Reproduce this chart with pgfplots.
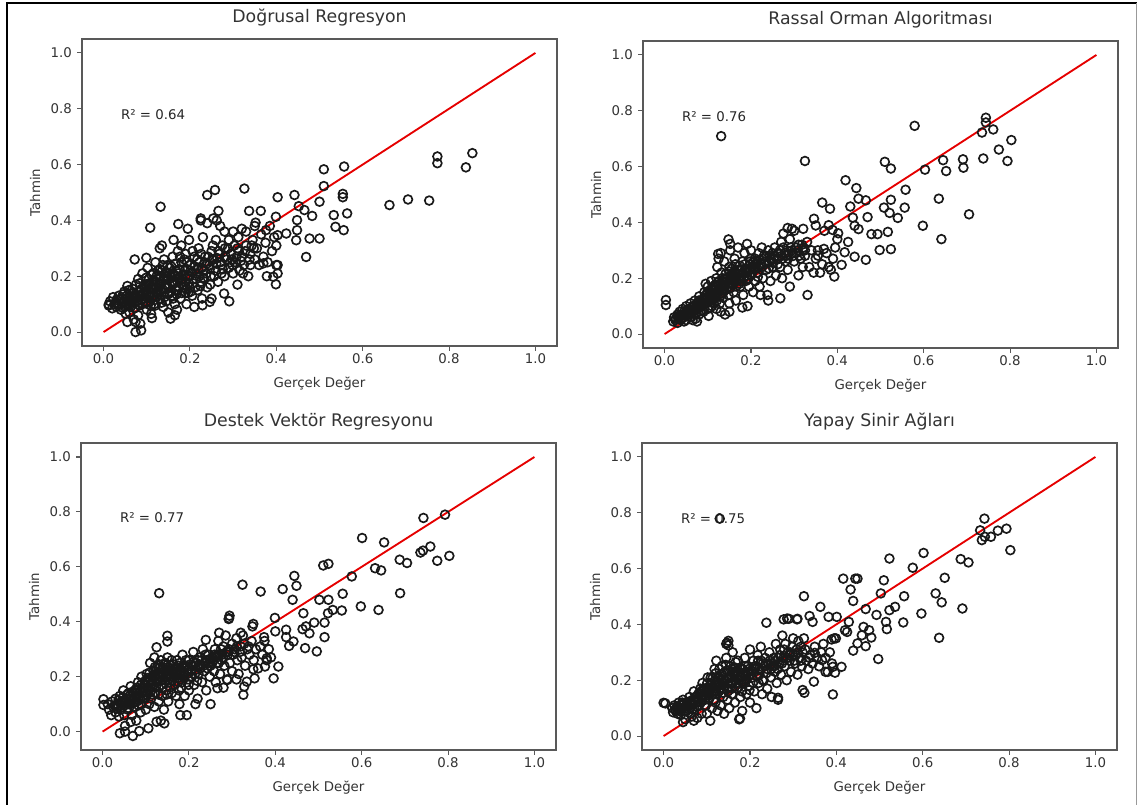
\documentclass[border=0pt]{standalone}
\usepackage{fontspec}
\setmainfont{DejaVu Sans}
\usepackage{pgfplots}
\pgfplotsset{compat=1.18}

% 1 px of the reference = 0.75pt
\pgfplotsset{
  panel/.style={
    scale only axis, width=356.25pt, height=230.25pt, anchor=north west,
    xmin=-0.05, xmax=1.05, ymin=-0.05, ymax=1.05,
    xtick={0,0.2,0.4,0.6,0.8,1}, xticklabels={0.0,0.2,0.4,0.6,0.8,1.0},
    ytick={0,0.2,0.4,0.6,0.8,1}, yticklabels={0.0,0.2,0.4,0.6,0.8,1.0},
    tick align=outside, tick pos=left, major tick length=3.5pt,
    tick style={black!65, line width=0.8pt},
    axis line style={black!65, line width=0.9pt},
    ticklabel style={font=\fontsize{10}{12}\selectfont, text=black!80, inner sep=0pt},
    xticklabel style={anchor=north, yshift=-1.75pt},
    yticklabel style={anchor=east, xshift=-4pt},
    label style={font=\fontsize{10}{12}\selectfont, text=black!80},
    xlabel={Gerçek Değer}, ylabel={Tahmin},
    xlabel style={at={(axis description cs:0.5,-0.134)}, anchor=base},
    ylabel style={at={(axis description cs:-0.0884,0.5)}, anchor=base},
    title style={at={(axis description cs:0.5,1.029)}, anchor=base,
      font=\fontsize{13}{15}\selectfont, text=black!80},
  },
  pts/.style={only marks, mark=o, mark size=3.3pt, black!90, mark options={line width=1.25pt}},
  diag/.style={red!90!black, line width=1.4pt},
}
\newcommand{\rtext}[1]{\node[anchor=base west, inner sep=0pt, font=\fontsize{10}{12}\selectfont, text=black!85] at (axis cs:0.04,0.76) {#1};}

\begin{document}
\begin{tikzpicture}
\useasboundingbox (0,0) rectangle (852.75pt,603.75pt);
\draw[black, line width=1.3pt] (5.25pt,0) -- (5.25pt,601.5pt) -- (852.75pt,601.5pt);
\draw[black!40, line width=0.6pt] (852pt,601.5pt) -- (852pt,0);

% ---------------- Dogrusal Regresyon
\begin{axis}[panel, at={(61.5pt,574.5pt)}, title={Doğrusal Regresyon}]
\addplot[pts] coordinates {
(0.773,0.629) (0.773,0.605) (0.854,0.641) (0.839,0.590) (0.662,0.455) (0.705,0.475) (0.754,0.471)
(0.510,0.583) (0.557,0.593) (0.510,0.523) (0.554,0.495) (0.554,0.483) (0.533,0.419) (0.564,0.425)
(0.537,0.377) (0.556,0.365) (0.500,0.467) (0.483,0.416) (0.500,0.335) (0.477,0.335) (0.469,0.269)
(0.442,0.491) (0.403,0.483) (0.326,0.514) (0.258,0.509) (0.240,0.491) (0.132,0.449) (0.108,0.374)
(0.173,0.387) (0.072,0.260) (0.099,0.266) (0.266,0.434) (0.225,0.407) (0.254,0.407) (0.337,0.434)
(0.364,0.434) (0.399,0.413) (0.403,0.347) (0.376,0.365) (0.352,0.392) (0.452,0.451) (0.465,0.437)
(0.448,0.401) (0.448,0.365) (0.446,0.329) (0.423,0.353) (0.403,0.240) (0.403,0.210) (0.399,0.171)
(0.393,0.198) (0.378,0.200) (0.370,0.246) (0.291,0.110) (0.279,0.138) (0.246,0.108) (0.229,0.096)
(0.155,0.048) (0.074,0.000) (0.087,0.006) (0.074,0.036) (0.055,0.036) (0.051,0.066) (0.012,0.099)
(0.012,0.095) (0.015,0.11) (0.02,0.085) (0.022,0.125) (0.025,0.10) (0.03,0.09) (0.03,0.115) (0.035,0.13)
(0.04,0.08) (0.042,0.10) (0.045,0.12) (0.048,0.145) (0.05,0.09) (0.055,0.11) (0.055,0.165) (0.06,0.13) (0.06,0.07) (0.058,0.15)
(0.065,0.10) (0.068,0.12) (0.07,0.14) (0.072,0.085) (0.075,0.17) (0.078,0.11) (0.08,0.06) (0.08,0.19) (0.085,0.13) (0.088,0.155) (0.09,0.10) (0.09,0.21) (0.07,0.045) (0.085,0.03)
(0.095,0.12) (0.098,0.17) (0.10,0.14) (0.10,0.08) (0.102,0.23) (0.105,0.19) (0.108,0.11) (0.11,0.16) (0.112,0.05) (0.115,0.21) (0.118,0.13) (0.12,0.18) (0.12,0.095) (0.12,0.25) (0.11,0.065)
(0.125,0.15) (0.128,0.20) (0.13,0.12) (0.13,0.30) (0.132,0.17) (0.135,0.22) (0.138,0.09) (0.14,0.26) (0.14,0.14) (0.142,0.19) (0.145,0.11) (0.148,0.24) (0.15,0.16) (0.15,0.07) (0.135,0.31)
(0.155,0.20) (0.158,0.13) (0.16,0.27) (0.16,0.17) (0.162,0.33) (0.165,0.10) (0.168,0.22) (0.17,0.15) (0.172,0.29) (0.175,0.19) (0.178,0.12) (0.18,0.25) (0.18,0.31) (0.165,0.06) (0.17,0.08)
(0.185,0.17) (0.188,0.22) (0.19,0.14) (0.19,0.28) (0.192,0.10) (0.195,0.20) (0.198,0.33) (0.20,0.16) (0.20,0.24) (0.205,0.13) (0.208,0.19) (0.21,0.27) (0.21,0.09) (0.195,0.37)
(0.215,0.21) (0.218,0.15) (0.22,0.30) (0.222,0.25) (0.225,0.18) (0.228,0.12) (0.23,0.34) (0.232,0.22) (0.235,0.27) (0.24,0.16) (0.24,0.39) (0.245,0.24) (0.248,0.20) (0.25,0.29) (0.25,0.12) (0.225,0.40)
(0.255,0.26) (0.26,0.22) (0.26,0.33) (0.265,0.18) (0.268,0.28) (0.27,0.38) (0.272,0.24) (0.275,0.31) (0.28,0.20) (0.28,0.36) (0.285,0.26) (0.29,0.23) (0.29,0.33) (0.295,0.28) (0.30,0.36) (0.30,0.21) (0.262,0.40)
(0.305,0.25) (0.31,0.30) (0.312,0.34) (0.315,0.22) (0.32,0.27) (0.32,0.37) (0.325,0.24) (0.33,0.31) (0.33,0.36) (0.335,0.20) (0.34,0.28) (0.34,0.24) (0.345,0.33) (0.35,0.26) (0.35,0.38) (0.31,0.17)
(0.355,0.30) (0.36,0.24) (0.365,0.35) (0.37,0.27) (0.375,0.32) (0.38,0.25) (0.385,0.38) (0.39,0.29) (0.395,0.34) (0.40,0.24) (0.40,0.31)
(0.028,0.105) (0.033,0.098) (0.038,0.118) (0.043,0.088) (0.047,0.108) (0.052,0.128) (0.057,0.095) (0.062,0.115) (0.066,0.138) (0.071,0.105)
(0.076,0.125) (0.081,0.145) (0.083,0.095) (0.087,0.115) (0.092,0.135) (0.094,0.16) (0.097,0.105) (0.101,0.125) (0.104,0.155) (0.106,0.175)
(0.109,0.095) (0.113,0.14) (0.116,0.185) (0.119,0.115) (0.121,0.16) (0.124,0.205) (0.127,0.135) (0.129,0.175) (0.131,0.225) (0.134,0.105)
(0.136,0.155) (0.139,0.195) (0.141,0.125) (0.144,0.215) (0.146,0.17) (0.149,0.135) (0.151,0.19) (0.153,0.23) (0.156,0.145) (0.159,0.21)
(0.161,0.12) (0.163,0.18) (0.166,0.245) (0.169,0.135) (0.171,0.20) (0.174,0.16) (0.176,0.225) (0.179,0.175) (0.181,0.14) (0.184,0.205)
(0.187,0.26) (0.189,0.18) (0.191,0.155) (0.194,0.225) (0.197,0.175) (0.199,0.20) (0.202,0.145) (0.204,0.215) (0.207,0.175) (0.211,0.235)
(0.214,0.19) (0.217,0.26) (0.221,0.20) (0.224,0.165) (0.227,0.23) (0.231,0.195) (0.234,0.25) (0.238,0.21) (0.242,0.27) (0.246,0.225)
(0.251,0.26) (0.256,0.20) (0.261,0.245) (0.266,0.29) (0.271,0.25) (0.276,0.225) (0.283,0.27) (0.288,0.30) (0.293,0.25) (0.298,0.24)
(0.303,0.31) (0.308,0.27) (0.318,0.255) (0.328,0.29) (0.338,0.26) (0.348,0.30)
(0.045,0.135) (0.052,0.10) (0.063,0.09) (0.067,0.155) (0.073,0.13) (0.079,0.10) (0.084,0.175) (0.091,0.12) (0.096,0.145) (0.099,0.195)
(0.103,0.10) (0.107,0.13) (0.111,0.205) (0.114,0.17) (0.117,0.10) (0.122,0.14) (0.126,0.22) (0.129,0.19) (0.133,0.15) (0.137,0.24)
(0.143,0.17) (0.147,0.20) (0.152,0.14) (0.157,0.235) (0.163,0.20) (0.167,0.15) (0.173,0.21) (0.177,0.27) (0.183,0.19) (0.186,0.16)
(0.193,0.25) (0.196,0.14) (0.201,0.22) (0.206,0.29) (0.212,0.16) (0.219,0.225) (0.226,0.28) (0.233,0.19) (0.239,0.245) (0.247,0.17)
(0.253,0.31) (0.263,0.265) (0.273,0.21) (0.281,0.30) (0.297,0.26) (0.313,0.29) (0.323,0.21) (0.343,0.31) (0.118,0.155) (0.104,0.17)
(0.092,0.14) (0.142,0.16) (0.158,0.18) (0.171,0.18) (0.148,0.21) (0.127,0.165)
};
\addplot[diag] coordinates {(0,0) (1,1)};
\rtext{R² = 0.64}
\end{axis}

% ---------------- Rassal Orman Algoritmasi
\begin{axis}[panel, at={(482.25pt,573pt)}, title={Rassal Orman Algoritması}]
\addplot[pts] coordinates {
(0.131,0.709) (0.579,0.746) (0.744,0.775) (0.744,0.758) (0.735,0.722) (0.761,0.733) (0.803,0.695)
(0.774,0.661) (0.794,0.620) (0.738,0.629) (0.691,0.626) (0.692,0.596) (0.645,0.623) (0.652,0.584)
(0.603,0.589) (0.510,0.617) (0.524,0.593) (0.325,0.620) (0.419,0.551) (0.444,0.523) (0.449,0.485)
(0.466,0.479) (0.558,0.517) (0.524,0.481) (0.635,0.485) (0.508,0.453) (0.521,0.434) (0.540,0.416)
(0.556,0.453) (0.598,0.388) (0.641,0.340) (0.705,0.429) (0.365,0.471) (0.383,0.449) (0.430,0.457)
(0.436,0.417) (0.470,0.419) (0.440,0.388) (0.449,0.376) (0.479,0.358) (0.493,0.358) (0.517,0.366)
(0.498,0.301) (0.524,0.304) (0.466,0.266) (0.440,0.277) (0.410,0.248) (0.393,0.206) (0.331,0.140)
(0.268,0.128) (0.222,0.140) (0.003,0.122) (0.003,0.104) (0.402,0.361) (0.389,0.373) (0.346,0.413)
(0.350,0.389) (0.425,0.330) (0.417,0.293) (0.369,0.305) (0.355,0.281) (0.295,0.377) (0.321,0.377)
(0.148,0.339) (0.152,0.323) (0.191,0.323) (0.124,0.287)
(0.02,0.045) (0.022,0.06) (0.025,0.05) (0.03,0.07) (0.032,0.055) (0.035,0.08) (0.038,0.05) (0.04,0.065) (0.042,0.09) (0.045,0.06) (0.048,0.075) (0.05,0.10) (0.05,0.05) (0.03,0.04) (0.045,0.045)
(0.055,0.07) (0.058,0.085) (0.06,0.11) (0.062,0.06) (0.065,0.095) (0.068,0.075) (0.07,0.12) (0.072,0.055) (0.075,0.09) (0.078,0.105) (0.08,0.07) (0.08,0.135) (0.065,0.05) (0.075,0.045)
(0.085,0.10) (0.088,0.12) (0.09,0.08) (0.092,0.15) (0.095,0.11) (0.098,0.13) (0.10,0.17) (0.10,0.09) (0.102,0.065) (0.105,0.14) (0.108,0.19) (0.11,0.12) (0.11,0.10) (0.095,0.18)
(0.115,0.16) (0.118,0.13) (0.12,0.20) (0.12,0.09) (0.122,0.24) (0.125,0.15) (0.128,0.11) (0.13,0.18) (0.13,0.29) (0.132,0.22) (0.135,0.13) (0.138,0.26) (0.14,0.17) (0.14,0.07) (0.125,0.27) (0.13,0.08)
(0.145,0.20) (0.148,0.14) (0.15,0.24) (0.15,0.11) (0.152,0.30) (0.155,0.18) (0.158,0.22) (0.16,0.15) (0.162,0.27) (0.165,0.12) (0.168,0.19) (0.17,0.23) (0.17,0.31) (0.15,0.08)
(0.175,0.17) (0.178,0.21) (0.18,0.26) (0.182,0.14) (0.185,0.29) (0.188,0.19) (0.19,0.23) (0.192,0.10) (0.195,0.17) (0.198,0.26) (0.20,0.21) (0.20,0.30) (0.205,0.15) (0.208,0.24) (0.21,0.19) (0.21,0.27) (0.18,0.095)
(0.215,0.22) (0.218,0.29) (0.22,0.17) (0.222,0.25) (0.225,0.31) (0.228,0.20) (0.23,0.28) (0.235,0.23) (0.238,0.14) (0.24,0.30) (0.242,0.26) (0.245,0.19) (0.25,0.29) (0.25,0.24) (0.255,0.31) (0.258,0.21) (0.26,0.27) (0.24,0.12)
(0.265,0.29) (0.268,0.24) (0.27,0.33) (0.272,0.20) (0.275,0.31) (0.28,0.26) (0.282,0.28) (0.285,0.23) (0.29,0.34) (0.29,0.17) (0.295,0.30) (0.30,0.26) (0.30,0.37) (0.305,0.29) (0.31,0.32) (0.31,0.21) (0.315,0.27) (0.32,0.30) (0.32,0.24) (0.325,0.28) (0.33,0.33) (0.275,0.36) (0.285,0.38)
(0.335,0.24) (0.34,0.30) (0.345,0.22) (0.35,0.27) (0.355,0.30) (0.36,0.22) (0.365,0.25) (0.37,0.37) (0.375,0.29) (0.38,0.24) (0.385,0.23) (0.39,0.27) (0.395,0.31) (0.40,0.34) (0.38,0.39)
(0.026,0.055) (0.031,0.062) (0.036,0.068) (0.041,0.058) (0.046,0.082) (0.051,0.072) (0.056,0.09) (0.061,0.078) (0.066,0.10) (0.071,0.085)
(0.076,0.11) (0.081,0.095) (0.083,0.12) (0.087,0.085) (0.091,0.13) (0.093,0.10) (0.097,0.14) (0.101,0.115) (0.103,0.155) (0.106,0.095)
(0.109,0.13) (0.112,0.16) (0.114,0.11) (0.117,0.145) (0.119,0.175) (0.121,0.12) (0.124,0.16) (0.126,0.19) (0.129,0.135) (0.131,0.17)
(0.134,0.20) (0.136,0.15) (0.139,0.185) (0.141,0.215) (0.144,0.16) (0.146,0.19) (0.149,0.225) (0.151,0.165) (0.154,0.20) (0.156,0.235)
(0.159,0.18) (0.161,0.21) (0.164,0.25) (0.166,0.17) (0.169,0.215) (0.171,0.20) (0.174,0.245) (0.177,0.19) (0.179,0.23) (0.183,0.20)
(0.186,0.25) (0.189,0.22) (0.193,0.195) (0.196,0.235) (0.199,0.27) (0.203,0.22) (0.206,0.26) (0.211,0.235) (0.216,0.205) (0.221,0.265)
(0.226,0.24) (0.231,0.25) (0.236,0.28) (0.241,0.235) (0.246,0.27) (0.251,0.255) (0.256,0.28) (0.262,0.25) (0.267,0.30) (0.273,0.27)
(0.279,0.29) (0.286,0.27) (0.292,0.31) (0.298,0.28) (0.305,0.31) (0.312,0.28) (0.318,0.32) (0.325,0.30)
(0.034,0.06) (0.044,0.07) (0.053,0.085) (0.059,0.07) (0.064,0.085) (0.069,0.10) (0.074,0.075) (0.079,0.12) (0.084,0.11) (0.089,0.105)
(0.094,0.125) (0.099,0.15) (0.104,0.125) (0.107,0.16) (0.111,0.14) (0.116,0.175) (0.121,0.15) (0.123,0.185) (0.127,0.16) (0.133,0.19)
(0.137,0.17) (0.142,0.20) (0.147,0.18) (0.153,0.21) (0.157,0.19) (0.163,0.22) (0.167,0.205) (0.173,0.23) (0.176,0.20) (0.181,0.22)
(0.187,0.235) (0.191,0.21) (0.197,0.25) (0.202,0.24) (0.209,0.25) (0.214,0.26) (0.219,0.24) (0.227,0.27) (0.233,0.26) (0.243,0.28)
(0.253,0.27) (0.263,0.29) (0.271,0.28) (0.283,0.30) (0.296,0.29) (0.308,0.30) (0.322,0.31) (0.113,0.125) (0.133,0.145) (0.153,0.165)
(0.173,0.18) (0.193,0.22)
};
\addplot[diag] coordinates {(0,0) (1,1)};
\rtext{R² = 0.76}
\end{axis}

% ---------------- Destek Vektor Regresyonu
\begin{axis}[panel, at={(60.75pt,271.5pt)}, ymin=-0.067, ymax=1.051, title={Destek Vektör Regresyonu}]
\addplot[pts] coordinates {
(0.131,0.504) (0.743,0.778) (0.793,0.790) (0.601,0.705) (0.652,0.689) (0.736,0.652) (0.742,0.659)
(0.759,0.674) (0.803,0.640) (0.775,0.622) (0.688,0.626) (0.705,0.614) (0.631,0.595) (0.645,0.587)
(0.577,0.565) (0.511,0.605) (0.523,0.611) (0.444,0.567) (0.449,0.531) (0.417,0.519) (0.440,0.480)
(0.324,0.535) (0.366,0.510) (0.689,0.504) (0.556,0.502) (0.502,0.480) (0.523,0.480) (0.522,0.431)
(0.533,0.443) (0.554,0.441) (0.598,0.456) (0.639,0.443) (0.465,0.431) (0.463,0.373) (0.471,0.383)
(0.490,0.397) (0.479,0.358) (0.514,0.397) (0.514,0.344) (0.496,0.292) (0.469,0.304) (0.399,0.414)
(0.400,0.365) (0.425,0.371) (0.425,0.344) (0.442,0.328) (0.432,0.312) (0.349,0.392) (0.347,0.383)
(0.293,0.413) (0.294,0.422) (0.374,0.344) (0.407,0.237) (0.396,0.194) (0.376,0.237) (0.380,0.267)
(0.349,0.227) (0.352,0.194) (0.326,0.134) (0.328,0.164) (0.334,0.182) (0.289,0.188) (0.266,0.158)
(0.239,0.334) (0.150,0.349) (0.150,0.328) (0.125,0.307) (0.002,0.118) (0.002,0.097) (0.052,0.000)
(0.040,-0.006) (0.070,-0.016) (0.085,0.002) (0.106,0.012) (0.125,0.036) (0.143,0.030) (0.052,0.021)
(0.012,0.10) (0.015,0.08) (0.02,0.06) (0.022,0.11) (0.025,0.09) (0.03,0.07) (0.03,0.12) (0.035,0.10) (0.038,0.055) (0.04,0.13) (0.042,0.08) (0.045,0.11) (0.048,0.15) (0.05,0.06) (0.05,0.095)
(0.055,0.12) (0.058,0.08) (0.06,0.14) (0.062,0.10) (0.065,0.165) (0.068,0.06) (0.07,0.12) (0.072,0.09) (0.075,0.15) (0.078,0.04) (0.08,0.11) (0.082,0.18) (0.085,0.13) (0.088,0.07) (0.09,0.20) (0.09,0.10) (0.065,0.035)
(0.095,0.15) (0.098,0.12) (0.10,0.17) (0.10,0.08) (0.102,0.21) (0.105,0.14) (0.108,0.10) (0.11,0.19) (0.11,0.25) (0.112,0.12) (0.115,0.16) (0.118,0.22) (0.12,0.09) (0.12,0.27) (0.122,0.14) (0.125,0.19)
(0.128,0.24) (0.13,0.11) (0.13,0.16) (0.132,0.21) (0.135,0.26) (0.138,0.13) (0.14,0.19) (0.14,0.23) (0.142,0.08) (0.145,0.25) (0.148,0.15) (0.15,0.21) (0.15,0.27) (0.152,0.11) (0.155,0.18) (0.158,0.24) (0.16,0.14) (0.16,0.26) (0.135,0.04)
(0.165,0.20) (0.168,0.23) (0.17,0.13) (0.172,0.26) (0.175,0.18) (0.178,0.10) (0.18,0.22) (0.182,0.16) (0.185,0.28) (0.188,0.20) (0.19,0.13) (0.192,0.24) (0.195,0.06) (0.198,0.19) (0.20,0.26) (0.20,0.15) (0.18,0.06)
(0.205,0.22) (0.21,0.29) (0.212,0.17) (0.215,0.25) (0.22,0.12) (0.222,0.21) (0.225,0.27) (0.228,0.24) (0.23,0.18) (0.232,0.30) (0.235,0.22) (0.24,0.26) (0.24,0.15) (0.245,0.28) (0.248,0.20) (0.25,0.24) (0.25,0.10) (0.215,0.10)
(0.255,0.27) (0.258,0.22) (0.26,0.30) (0.262,0.18) (0.265,0.25) (0.268,0.33) (0.27,0.28) (0.272,0.21) (0.275,0.26) (0.28,0.31) (0.282,0.24) (0.285,0.35) (0.288,0.19) (0.29,0.28) (0.292,0.41) (0.295,0.25) (0.30,0.32) (0.30,0.22) (0.28,0.16) (0.27,0.36)
(0.305,0.29) (0.31,0.34) (0.312,0.26) (0.315,0.21) (0.32,0.31) (0.322,0.27) (0.325,0.35) (0.33,0.24) (0.335,0.30) (0.34,0.28) (0.345,0.33) (0.35,0.26) (0.355,0.30) (0.36,0.23) (0.365,0.31) (0.37,0.28) (0.375,0.33) (0.38,0.26) (0.385,0.30) (0.39,0.27) (0.31,0.19) (0.32,0.36)
(0.028,0.095) (0.033,0.085) (0.037,0.115) (0.043,0.095) (0.047,0.125) (0.053,0.105) (0.057,0.135) (0.061,0.085) (0.066,0.12) (0.069,0.145)
(0.073,0.105) (0.077,0.13) (0.079,0.16) (0.083,0.095) (0.086,0.145) (0.089,0.17) (0.093,0.12) (0.096,0.16) (0.099,0.185) (0.101,0.135)
(0.104,0.195) (0.107,0.155) (0.109,0.215) (0.113,0.175) (0.116,0.135) (0.119,0.20) (0.121,0.235) (0.124,0.165) (0.127,0.21) (0.129,0.135)
(0.131,0.245) (0.134,0.185) (0.137,0.225) (0.139,0.16) (0.141,0.205) (0.144,0.245) (0.146,0.185) (0.149,0.135) (0.151,0.235) (0.154,0.205)
(0.156,0.16) (0.159,0.22) (0.161,0.185) (0.164,0.245) (0.167,0.17) (0.169,0.21) (0.171,0.235) (0.174,0.195) (0.177,0.15) (0.179,0.25)
(0.181,0.205) (0.184,0.18) (0.187,0.235) (0.189,0.215) (0.193,0.26) (0.196,0.225) (0.199,0.17) (0.203,0.245) (0.207,0.20) (0.211,0.255)
(0.216,0.225) (0.219,0.185) (0.224,0.245) (0.229,0.26) (0.234,0.24) (0.238,0.28) (0.243,0.23) (0.249,0.265) (0.254,0.25) (0.259,0.28)
(0.264,0.27) (0.269,0.25) (0.274,0.30) (0.279,0.27) (0.287,0.29) (0.293,0.30) (0.302,0.28) (0.311,0.31) (0.318,0.29) (0.328,0.32) (0.338,0.31)
(0.036,0.09) (0.044,0.105) (0.051,0.115) (0.059,0.10) (0.063,0.13) (0.071,0.14) (0.076,0.11) (0.081,0.15) (0.087,0.12) (0.091,0.155)
(0.094,0.13) (0.097,0.175) (0.103,0.16) (0.106,0.18) (0.111,0.145) (0.114,0.20) (0.117,0.17) (0.123,0.22) (0.126,0.18) (0.133,0.20)
(0.136,0.17) (0.143,0.22) (0.147,0.20) (0.153,0.19) (0.157,0.23) (0.163,0.21) (0.166,0.23) (0.173,0.21) (0.176,0.24) (0.183,0.22)
(0.186,0.20) (0.191,0.24) (0.197,0.21) (0.201,0.23) (0.209,0.24) (0.214,0.21) (0.221,0.26) (0.226,0.23) (0.236,0.25) (0.246,0.25)
(0.256,0.26) (0.266,0.28) (0.277,0.28) (0.291,0.29) (0.306,0.30) (0.12,0.205) (0.14,0.21) (0.16,0.20) (0.18,0.19) (0.13,0.23)
};
\addplot[diag] coordinates {(0,0) (1,1)};
\rtext{R² = 0.77}
\end{axis}

% ---------------- Yapay Sinir Aglari
\begin{axis}[panel, at={(481.5pt,271.5pt)}, title={Yapay Sinir Ağları}]
\rtext{R² = 0.75}
\addplot[pts] coordinates {
(0.130,0.779) (0.743,0.779) (0.733,0.737) (0.737,0.702) (0.744,0.714) (0.758,0.714) (0.774,0.736)
(0.794,0.743) (0.803,0.666) (0.688,0.634) (0.706,0.622) (0.602,0.656) (0.577,0.603) (0.523,0.636)
(0.651,0.567) (0.510,0.558) (0.503,0.511) (0.416,0.564) (0.444,0.564) (0.449,0.564) (0.433,0.525)
(0.439,0.484) (0.325,0.501) (0.557,0.501) (0.630,0.511) (0.644,0.479) (0.692,0.457) (0.597,0.439)
(0.555,0.407) (0.523,0.451) (0.536,0.463) (0.515,0.409) (0.517,0.383) (0.493,0.434) (0.468,0.455)
(0.638,0.352) (0.497,0.276) (0.363,0.463) (0.238,0.406) (0.286,0.421) (0.309,0.418) (0.338,0.430)
(0.345,0.409) (0.382,0.427) (0.401,0.427) (0.399,0.350) (0.389,0.346) (0.429,0.409) (0.420,0.379)
(0.425,0.373) (0.463,0.391) (0.476,0.379) (0.481,0.353) (0.459,0.361) (0.449,0.332) (0.468,0.322)
(0.439,0.306) (0.392,0.248) (0.412,0.248) (0.397,0.227) (0.392,0.149) (0.375,0.230) (0.367,0.272)
(0.350,0.298) (0.348,0.195) (0.326,0.155) (0.322,0.165) (0.265,0.137) (0.177,0.063) (0.000,0.119)
(0.004,0.117) (0.147,0.334) (0.150,0.341) (0.278,0.418)
(0.02,0.10) (0.022,0.085) (0.025,0.11) (0.028,0.09) (0.03,0.10) (0.032,0.08) (0.035,0.12) (0.038,0.095) (0.04,0.075) (0.042,0.11) (0.045,0.13) (0.048,0.09) (0.05,0.105) (0.05,0.06) (0.045,0.05)
(0.055,0.12) (0.058,0.085) (0.06,0.14) (0.062,0.10) (0.065,0.07) (0.068,0.13) (0.07,0.16) (0.072,0.095) (0.075,0.12) (0.078,0.065) (0.08,0.15) (0.082,0.11) (0.085,0.17) (0.088,0.08) (0.09,0.13) (0.09,0.19) (0.07,0.055)
(0.095,0.15) (0.098,0.11) (0.10,0.17) (0.10,0.08) (0.102,0.21) (0.105,0.13) (0.108,0.055) (0.11,0.19) (0.112,0.10) (0.115,0.15) (0.118,0.24) (0.12,0.12) (0.12,0.18) (0.122,0.27) (0.125,0.09)
(0.128,0.16) (0.13,0.21) (0.132,0.11) (0.135,0.25) (0.138,0.14) (0.14,0.19) (0.14,0.08) (0.142,0.23) (0.145,0.28) (0.148,0.13) (0.15,0.17) (0.15,0.21) (0.152,0.10) (0.155,0.25) (0.158,0.15) (0.16,0.19) (0.16,0.30) (0.145,0.33) (0.15,0.325)
(0.165,0.12) (0.168,0.23) (0.17,0.17) (0.172,0.27) (0.175,0.20) (0.178,0.14) (0.18,0.24) (0.182,0.09) (0.185,0.19) (0.188,0.28) (0.19,0.22) (0.192,0.15) (0.195,0.25) (0.198,0.18) (0.20,0.31) (0.20,0.12) (0.175,0.06)
(0.205,0.21) (0.208,0.27) (0.21,0.16) (0.212,0.24) (0.215,0.10) (0.218,0.29) (0.22,0.19) (0.222,0.22) (0.225,0.32) (0.228,0.15) (0.23,0.26) (0.232,0.20) (0.235,0.28) (0.24,0.17) (0.24,0.24) (0.245,0.30) (0.248,0.21) (0.25,0.26) (0.25,0.14)
(0.255,0.28) (0.258,0.23) (0.26,0.33) (0.262,0.19) (0.265,0.13) (0.268,0.26) (0.27,0.31) (0.272,0.22) (0.275,0.36) (0.278,0.28) (0.28,0.25) (0.282,0.33) (0.285,0.20) (0.288,0.30) (0.29,0.42) (0.292,0.27) (0.295,0.23) (0.298,0.32) (0.30,0.29) (0.30,0.35)
(0.305,0.26) (0.308,0.31) (0.31,0.22) (0.312,0.34) (0.315,0.28) (0.318,0.32) (0.32,0.25) (0.322,0.30) (0.325,0.35) (0.33,0.27) (0.335,0.24) (0.34,0.29) (0.345,0.26) (0.35,0.32) (0.355,0.28) (0.36,0.25) (0.365,0.30) (0.37,0.33) (0.375,0.28) (0.38,0.23) (0.385,0.30) (0.39,0.26) (0.395,0.35) (0.31,0.42)
(0.027,0.095) (0.031,0.105) (0.036,0.09) (0.041,0.10) (0.046,0.115) (0.052,0.09) (0.056,0.105) (0.061,0.125) (0.066,0.095) (0.069,0.115)
(0.073,0.14) (0.077,0.105) (0.079,0.13) (0.083,0.155) (0.086,0.12) (0.089,0.145) (0.093,0.17) (0.096,0.13) (0.099,0.155) (0.101,0.19)
(0.104,0.145) (0.107,0.17) (0.109,0.21) (0.113,0.16) (0.116,0.13) (0.119,0.20) (0.121,0.225) (0.124,0.15) (0.127,0.185) (0.129,0.24)
(0.131,0.17) (0.134,0.20) (0.137,0.155) (0.139,0.225) (0.141,0.18) (0.144,0.255) (0.146,0.205) (0.149,0.16) (0.151,0.235) (0.154,0.19)
(0.156,0.215) (0.159,0.17) (0.161,0.245) (0.164,0.20) (0.167,0.265) (0.169,0.19) (0.171,0.22) (0.174,0.175) (0.177,0.245) (0.179,0.21)
(0.181,0.16) (0.184,0.225) (0.187,0.195) (0.189,0.25) (0.193,0.205) (0.196,0.23) (0.199,0.165) (0.203,0.235) (0.207,0.19) (0.211,0.25)
(0.216,0.215) (0.219,0.27) (0.224,0.235) (0.229,0.20) (0.234,0.25) (0.238,0.225) (0.243,0.26) (0.249,0.24) (0.254,0.25) (0.259,0.27)
(0.264,0.24) (0.269,0.29) (0.274,0.26) (0.279,0.31) (0.287,0.28) (0.293,0.30) (0.302,0.27) (0.311,0.30) (0.318,0.27) (0.328,0.31) (0.338,0.28)
(0.035,0.10) (0.043,0.12) (0.053,0.11) (0.059,0.095) (0.064,0.115) (0.071,0.125) (0.076,0.14) (0.081,0.125) (0.087,0.16) (0.091,0.14)
(0.094,0.165) (0.097,0.145) (0.103,0.175) (0.106,0.16) (0.111,0.175) (0.114,0.21) (0.117,0.17) (0.123,0.195) (0.126,0.21) (0.133,0.185)
(0.136,0.22) (0.143,0.20) (0.147,0.235) (0.153,0.21) (0.157,0.19) (0.163,0.22) (0.166,0.245) (0.173,0.23) (0.176,0.21) (0.183,0.24)
(0.186,0.22) (0.191,0.20) (0.197,0.24) (0.201,0.22) (0.209,0.23) (0.214,0.25) (0.221,0.24) (0.226,0.27) (0.236,0.26) (0.246,0.27)
(0.256,0.25) (0.266,0.28) (0.277,0.27) (0.291,0.29) (0.306,0.29) (0.12,0.16) (0.14,0.17) (0.16,0.23) (0.18,0.20) (0.13,0.19)
};
\addplot[diag] coordinates {(0,0) (1,1)};
\end{axis}
\end{tikzpicture}
\end{document}
